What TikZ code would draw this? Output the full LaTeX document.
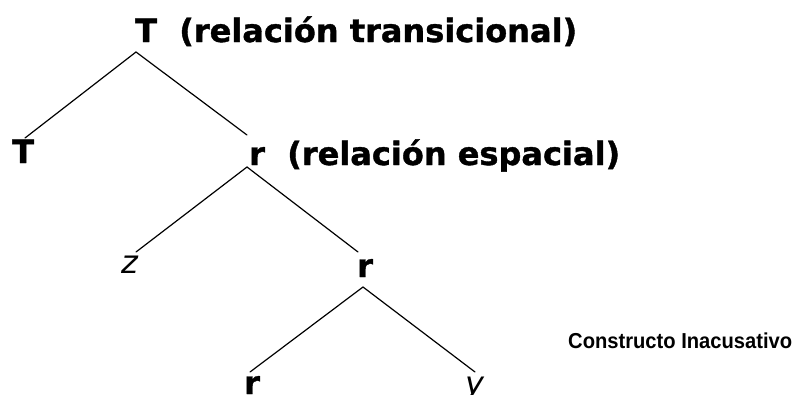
\documentclass[tikz,border=0pt]{standalone}
\usepackage{fontspec}
\newfontfamily\dv{DejaVu Sans}[BoldFeatures={FakeBold=1.2}]
\newfontfamily\lib{Liberation Sans}
\begin{document}
\begin{tikzpicture}[x=1pt,y=-1pt,
  lab/.style={inner sep=0pt, anchor=base west, font=\dv\bfseries\fontsize{32}{36}\selectfont},
  var/.style={inner sep=0pt, anchor=base west, font=\dv\itshape\fontsize{32}{36}\selectfont},
  branch/.style={line width=1.2pt, line cap=round}]
\useasboundingbox (0,0) rectangle (800,394);
% nodes
\node[lab] (T)  at (135,42) {T~~(relación transicional)};
\node[lab] (Tl) at (12,163) {T};
\node[lab] (r1) at (249,165) {r~~(relación espacial)};
\node[var] (z)  at (121,273) {z};
\node[lab] (r2) at (357,277) {r};
\node[lab] (r3) at (244,394) {r};
\node[var] (y)  at (465,394) {y};
\node[inner sep=0pt, anchor=base west, font=\lib\bfseries\fontsize{21}{24}\selectfont] (ci) at (568,348) {\scalebox{0.96}[1.03]{Constructo Inacusativo}};
% branch points
\coordinate (a1) at (136,52);
\coordinate (e1) at (25,138);
\coordinate (e2) at (247,135);
\coordinate (a2) at (247,167);
\coordinate (e3) at (136,252);
\coordinate (e4) at (358,252);
\coordinate (a3) at (363,287);
\coordinate (e5) at (250,372);
\coordinate (e6) at (475,372);
\draw[branch] (e1) -- (a1) -- (e2);
\draw[branch] (e3) -- (a2) -- (e4);
\draw[branch] (e5) -- (a3) -- (e6);
\end{tikzpicture}
\end{document}
